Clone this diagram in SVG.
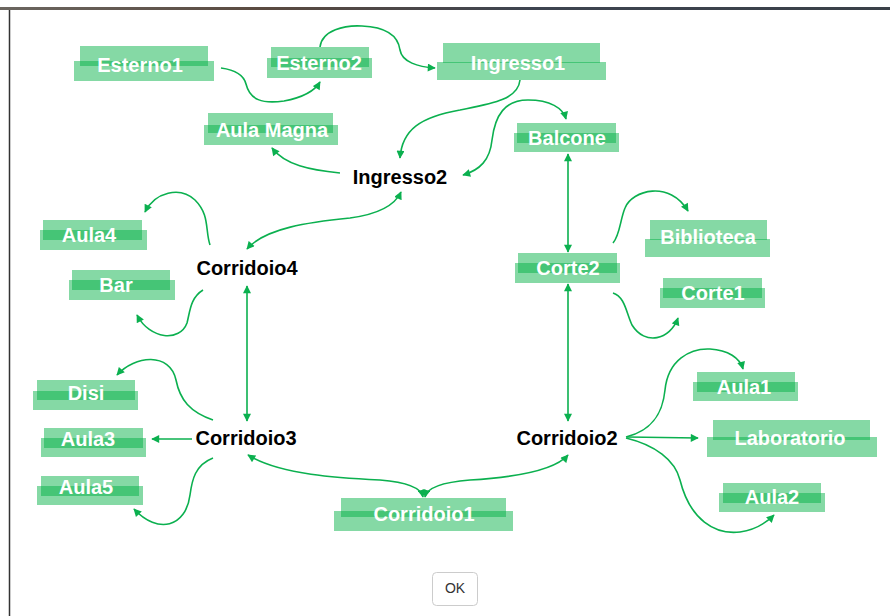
<svg xmlns="http://www.w3.org/2000/svg" width="890" height="616" viewBox="0 0 890 616">
<style>
.hl{fill:rgb(0,175,66);fill-opacity:.48}
.lt{font-family:"Liberation Sans",Arial,sans-serif;font-weight:bold;font-size:20px;fill:#fff;text-anchor:middle}
.dk{font-family:"Liberation Sans",Arial,sans-serif;font-weight:bold;font-size:20px;fill:#000;text-anchor:middle}
.e{fill:none;stroke:#0bb04f;stroke-width:1.6}
</style>
<defs>
<marker id="ah" viewBox="0 0 10 10" refX="9" refY="5" markerWidth="9" markerHeight="8" markerUnits="userSpaceOnUse" orient="auto-start-reverse">
<path d="M0,0 L10,5 L0,10 z" fill="#0bb04f"/>
</marker>
<linearGradient id="strip" x1="0" y1="0" x2="1" y2="0">
<stop offset="0" stop-color="#6b6660"/>
<stop offset="0.3" stop-color="#5a4a40"/>
<stop offset="0.6" stop-color="#3d4450"/>
<stop offset="1" stop-color="#3a4048"/>
</linearGradient>
</defs>
<rect x="0" y="0" width="890" height="616" fill="#fff"/>
<rect x="0" y="7" width="890" height="3" fill="url(#strip)"/>
<line x1="9.5" y1="10" x2="9.5" y2="616" stroke="#333" stroke-width="1.5"/>

<g id="connectors">
<path class="e" marker-end="url(#ah)" d="M221,68 C236,70 244,76 246,84 C250,100 262,104 284,101 C300,98 314,92 320,82"/>
<path class="e" marker-end="url(#ah)" d="M320,47 C322,30 345,25 362,26 C385,27 398,35 400,50 C402,62 418,67 435,68"/>
<path class="e" marker-end="url(#ah)" d="M520,80 C518,100 490,104 460,110 C420,117 402,130 400,158"/>
<path class="e" marker-start="url(#ah)" marker-end="url(#ah)" d="M463,175 C480,170 490,160 492,140 C495,115 505,100 528,100 C550,100 563,108 566,119"/>
<path class="e" marker-end="url(#ah)" d="M340,173 C310,170 285,165 272,148"/>
<path class="e" marker-start="url(#ah)" marker-end="url(#ah)" d="M247,249 C265,228 310,222 350,218 C380,214 395,205 401,192"/>
<path class="e" marker-end="url(#ah)" d="M210,245 C205,230 210,215 195,200 C180,186 155,192 145,212"/>
<path class="e" marker-end="url(#ah)" d="M203,290 C190,298 190,312 187,323 C180,342 150,340 137,315"/>
<path class="e" marker-start="url(#ah)" marker-end="url(#ah)" d="M247,286 L247,421"/>
<path class="e" marker-end="url(#ah)" d="M213,420 C190,412 180,400 176,380 C170,352 135,355 117,375"/>
<path class="e" marker-end="url(#ah)" d="M192,439 L152,439"/>
<path class="e" marker-end="url(#ah)" d="M213,458 C195,465 192,480 190,495 C186,527 158,535 134,509"/>
<path class="e" marker-start="url(#ah)" marker-end="url(#ah)" d="M248,455 C280,475 340,478 380,480 C405,482 421,487 423,497"/>
<path class="e" marker-start="url(#ah)" marker-end="url(#ah)" d="M568,455 C555,470 520,477 470,480 C445,482 427,487 425,497"/>
<path class="e" marker-start="url(#ah)" marker-end="url(#ah)" d="M568,154 L568,252"/>
<path class="e" marker-start="url(#ah)" marker-end="url(#ah)" d="M568,284 L568,421"/>
<path class="e" marker-end="url(#ah)" d="M613,243 C620,235 620,220 625,208 C632,190 670,180 688,211"/>
<path class="e" marker-end="url(#ah)" d="M613,293 C625,297 626,312 632,325 C645,346 670,340 678,318"/>
<path class="e" marker-end="url(#ah)" d="M626,437 C655,430 663,410 665,390 C668,360 690,348 710,349 C728,350 740,358 743,369"/>
<path class="e" marker-end="url(#ah)" d="M627,437 L698,438"/>
<path class="e" marker-end="url(#ah)" d="M626,438 C655,445 675,460 680,480 C690,520 715,535 740,532 C755,530 765,524 774,515"/>
</g>

<g id="Esterno1"><rect class="hl" x="80" y="46" width="128" height="20"/><rect class="hl" x="74" y="61" width="140" height="20"/><text class="lt" x="140" y="72">Esterno1</text></g>
<g id="Esterno2"><rect class="hl" x="271" y="47" width="98" height="20"/><rect class="hl" x="267" y="58" width="105" height="20"/><text class="lt" x="319" y="70">Esterno2</text></g>
<g id="Ingresso1"><rect class="hl" x="443" y="43" width="157" height="20"/><rect class="hl" x="437" y="62" width="169" height="18"/><text class="lt" x="518" y="70">Ingresso1</text></g>
<g id="AulaMagna"><rect class="hl" x="208" y="113" width="125" height="20"/><rect class="hl" x="204" y="125" width="134" height="20"/><text class="lt" x="272" y="137">Aula Magna</text></g>
<g id="Ingresso2"><text class="dk" x="400" y="184">Ingresso2</text></g>
<g id="Balcone"><rect class="hl" x="517" y="123" width="99" height="20"/><rect class="hl" x="514" y="133" width="105" height="19"/><text class="lt" x="567" y="145">Balcone</text></g>
<g id="Aula4"><rect class="hl" x="43" y="220" width="99" height="20"/><rect class="hl" x="40" y="230" width="107" height="20"/><text class="lt" x="89" y="242">Aula4</text></g>
<g id="Corridoio4"><text class="dk" x="247" y="275">Corridoio4</text></g>
<g id="Bar"><rect class="hl" x="72" y="270" width="98" height="20"/><rect class="hl" x="69" y="280" width="106" height="20"/><text class="lt" x="116" y="292">Bar</text></g>
<g id="Biblioteca"><rect class="hl" x="650" y="220" width="117" height="20"/><rect class="hl" x="645" y="239" width="125" height="18"/><text class="lt" x="708" y="244">Biblioteca</text></g>
<g id="Corte2"><rect class="hl" x="518" y="253" width="99" height="20"/><rect class="hl" x="515" y="263" width="105" height="20"/><text class="lt" x="568" y="275">Corte2</text></g>
<g id="Corte1"><rect class="hl" x="663" y="278" width="99" height="20"/><rect class="hl" x="660" y="288" width="105" height="20"/><text class="lt" x="713" y="300">Corte1</text></g>
<g id="Disi"><rect class="hl" x="37" y="380" width="98" height="20"/><rect class="hl" x="33" y="391" width="105" height="19"/><text class="lt" x="86" y="400">Disi</text></g>
<g id="Aula3"><rect class="hl" x="44" y="428" width="99" height="20"/><rect class="hl" x="41" y="438" width="105" height="19"/><text class="lt" x="88" y="446">Aula3</text></g>
<g id="Corridoio3"><text class="dk" x="246" y="445">Corridoio3</text></g>
<g id="Aula5"><rect class="hl" x="41" y="476" width="98" height="20"/><rect class="hl" x="37" y="486" width="106" height="19"/><text class="lt" x="86" y="494">Aula5</text></g>
<g id="Corridoio2"><text class="dk" x="567" y="445">Corridoio2</text></g>
<g id="Aula1"><rect class="hl" x="697" y="372" width="98" height="20"/><rect class="hl" x="693" y="382" width="105" height="19"/><text class="lt" x="744" y="394">Aula1</text></g>
<g id="Laboratorio"><rect class="hl" x="713" y="420" width="157" height="20"/><rect class="hl" x="707" y="437" width="170" height="20"/><text class="lt" x="790" y="445">Laboratorio</text></g>
<g id="Aula2"><rect class="hl" x="723" y="483" width="98" height="20"/><rect class="hl" x="719" y="493" width="106" height="19"/><text class="lt" x="772" y="504">Aula2</text></g>
<g id="Corridoio1"><rect class="hl" x="341" y="498" width="165" height="19"/><rect class="hl" x="334" y="511" width="179" height="20"/><text class="lt" x="424" y="521">Corridoio1</text></g>

<g id="OK"><rect x="432.5" y="572.5" width="45" height="33" rx="4" fill="#fff" stroke="#ccc"/><text x="455" y="593" font-family="'Liberation Sans',Arial,sans-serif" font-size="14" fill="#333" text-anchor="middle">OK</text></g>
</svg>
